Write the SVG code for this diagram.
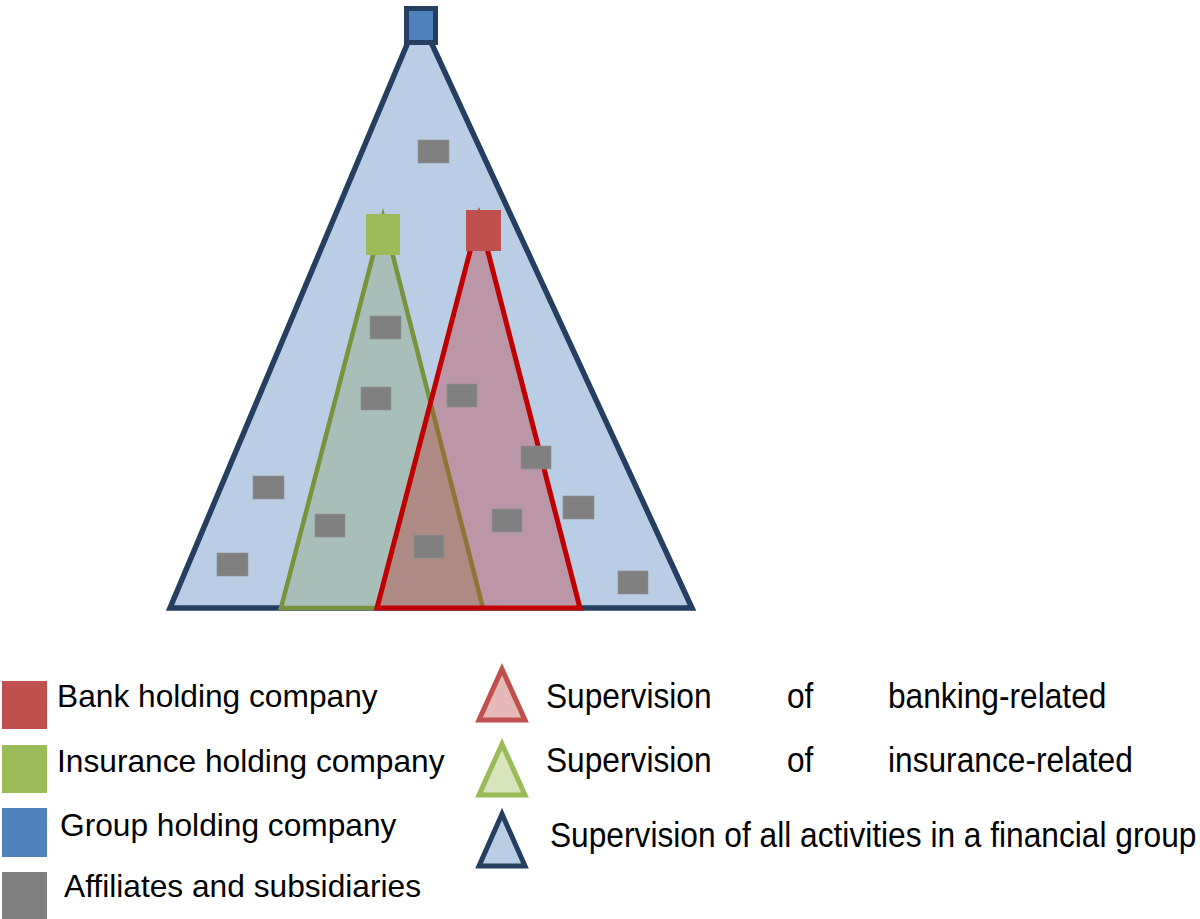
<svg xmlns="http://www.w3.org/2000/svg" width="1200" height="919" viewBox="0 0 1200 919">
<style>
.aff{fill:#808080;stroke:#8f8f8f;stroke-width:0.6}
.t{font-family:"Liberation Sans",Arial,sans-serif;font-size:31.7px;fill:#000}
</style>
<rect width="1200" height="919" fill="#fff"/>
<g id="group-supervision">
<polygon points="419,16 170,608 692,608" fill="#b9cde5" stroke="#243f60" stroke-width="5.5" stroke-miterlimit="10"/>
</g>
<g id="insurance-supervision">
<polygon points="383,217 281,608 483,608" fill="#a8beb9" stroke="#77933c" stroke-width="4.5" stroke-miterlimit="10"/>
</g>
<g id="banking-supervision">
<polygon points="479,217 377,608 580,608" fill="#ba96a7"/>
<polygon points="430.5,402.8 483,608 377,608" fill="#ad8a83"/>
<line x1="430.5" y1="402.8" x2="483" y2="608" stroke="#8b7634" stroke-width="4.5"/>
<polygon points="479,217 377,608 580,608" fill="none" stroke="#c00000" stroke-width="5" stroke-miterlimit="10"/>
</g>
<g id="group-holding">
<rect x="406.5" y="8.5" width="29" height="34" fill="#4f81bd" stroke="#243f60" stroke-width="5"/>
</g>
<g id="insurance-holding">
<rect x="366" y="214" width="34" height="41" fill="#9bbb59"/>
</g>
<g id="bank-holding">
<rect x="466" y="210" width="35" height="41" fill="#c0504d"/>
</g>
<g id="affiliates">
<rect class="aff" x="418" y="140" width="31" height="23"/>
<rect class="aff" x="370" y="316" width="31" height="23"/>
<rect class="aff" x="361" y="387" width="30" height="23"/>
<rect class="aff" x="447" y="384" width="30" height="23"/>
<rect class="aff" x="521" y="446" width="30" height="23"/>
<rect class="aff" x="253" y="476" width="31" height="23"/>
<rect class="aff" x="563" y="496" width="31" height="23"/>
<rect class="aff" x="315" y="514" width="30" height="23"/>
<rect class="aff" x="492" y="509" width="30" height="23"/>
<rect class="aff" x="414" y="535" width="30" height="23"/>
<rect class="aff" x="217" y="553" width="31" height="23"/>
<rect class="aff" x="618" y="571" width="30" height="23"/>
</g>
<g id="legend-left">
<rect x="2" y="681" width="45" height="48" fill="#c0504d"/>
<text class="t" x="57" y="707">Bank holding company</text>
<rect x="2" y="745" width="45" height="48" fill="#9bbb59"/>
<text class="t" x="57" y="772">Insurance holding company</text>
<rect x="2" y="808" width="45" height="49" fill="#4f81bd"/>
<text class="t" x="60" y="836">Group holding company</text>
<rect x="2" y="872" width="45" height="48" fill="#808080"/>
<text class="t" x="64" y="897">Affiliates and subsidiaries</text>
</g>
<g id="legend-right">
<polygon points="502,669 479,720 525,720" fill="#e6b9b8" stroke="#c0504d" stroke-width="5" stroke-miterlimit="10"/>
<g transform="translate(0,708) scale(1,1.12)">
<text class="t" x="546" y="0">Supervision</text>
<text class="t" x="787" y="0">of</text>
<text class="t" x="888" y="0">banking-related</text>
</g>
<polygon points="502,744 479,795 525,795" fill="#d7e4bd" stroke="#9bbb59" stroke-width="5" stroke-miterlimit="10"/>
<g transform="translate(0,772) scale(1,1.12)">
<text class="t" x="546" y="0">Supervision</text>
<text class="t" x="787" y="0">of</text>
<text class="t" x="888" y="0">insurance-related</text>
</g>
<polygon points="502,814 479,866 525,866" fill="#b9cde5" stroke="#243f60" stroke-width="5" stroke-miterlimit="10"/>
<g transform="translate(0,847) scale(1,1.12)">
<text class="t" x="550" y="0">Supervision of all activities in a financial group</text>
</g>
</g>
</svg>
